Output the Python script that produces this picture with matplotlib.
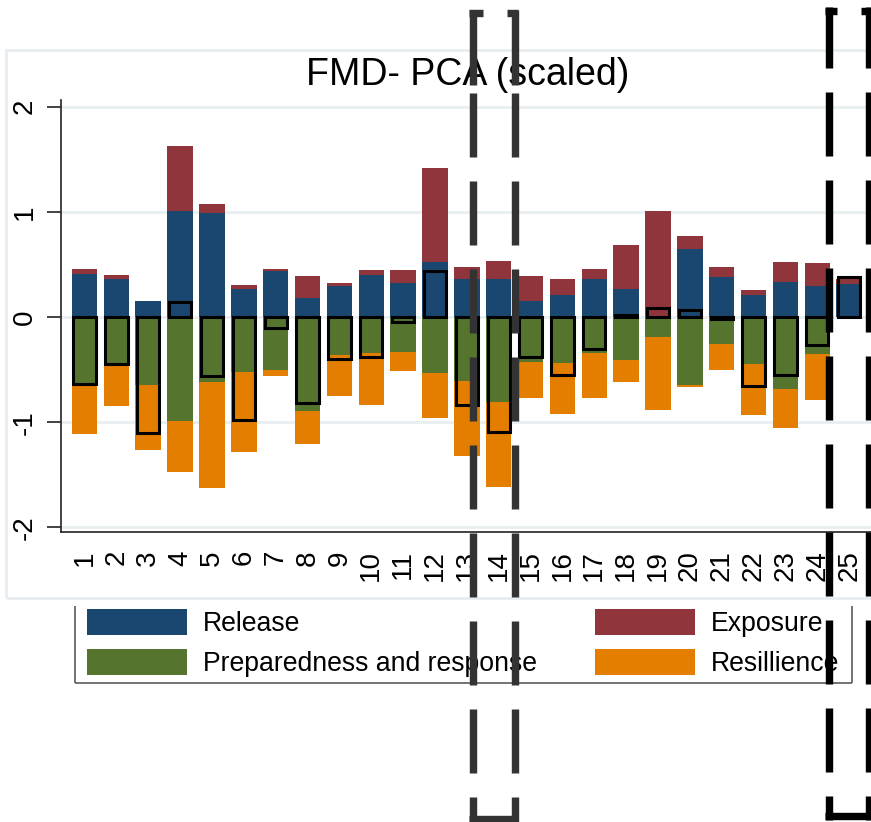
import numpy as np
import matplotlib
matplotlib.use('Agg')
import matplotlib.pyplot as plt
from matplotlib.patches import Patch, Rectangle
from matplotlib.lines import Line2D

plt.rcParams['font.family'] = ['Liberation Sans', 'DejaVu Sans']
plt.rcParams['axes.unicode_minus'] = False

# region numbers on the x axis
regions = [str(i) for i in range(1, 26)]

# stacked components (scaled PCA scores)
release = [0.41, 0.36, 0.15, 1.01, 0.99, 0.27, 0.44, 0.18, 0.29, 0.40, 0.32, 0.52, 0.36,
           0.36, 0.15, 0.21, 0.36, 0.27, 0.00, 0.65, 0.38, 0.21, 0.33, 0.29, 0.31]
exposure = [0.05, 0.04, 0.00, 0.62, 0.08, 0.03, 0.02, 0.21, 0.03, 0.05, 0.13, 0.90, 0.12,
            0.17, 0.24, 0.15, 0.10, 0.41, 1.01, 0.12, 0.10, 0.05, 0.19, 0.22, 0.05]
preparedness = [-0.65, -0.46, -0.65, -0.99, -0.62, -0.52, -0.50, -0.89, -0.36, -0.34, -0.33, -0.53, -0.61,
                -0.81, -0.43, -0.44, -0.34, -0.41, -0.19, -0.65, -0.26, -0.45, -0.68, -0.35, 0.00]
resilience = [-0.46, -0.39, -0.61, -0.48, -1.01, -0.76, -0.06, -0.32, -0.39, -0.50, -0.18, -0.43, -0.71,
              -0.81, -0.34, -0.48, -0.43, -0.21, -0.69, -0.02, -0.24, -0.48, -0.38, -0.44, 0.00]
# net score, drawn as hollow black boxes
net_score = [-0.64, -0.45, -1.10, 0.14, -0.56, -0.98, -0.10, -0.82, -0.40, -0.38, -0.05, 0.44, -0.84,
             -1.09, -0.38, -0.55, -0.30, 0.02, 0.09, 0.07, -0.02, -0.66, -0.55, -0.27, 0.38]

y_ticks = [-2, -1, 0, 1, 2]

NAVY = '#1a476f'
MAROON = '#90353b'
GREEN = '#55752f'
ORANGE = '#e37e00'

W, H = 871, 822


def fx(px):
	''' pixel column -> figure fraction '''
	return px / W


def fy(py):
	''' pixel row (from top) -> figure fraction '''
	return 1 - py / H


def seg(fig, p0, p1, color, lw_px=7.4):
	'''
		draw one straight segment given in pixel coords (from top-left).
	'''
	fig.add_artist(Line2D([fx(p0[0]), fx(p1[0])], [fy(p0[1]), fy(p1[1])],
	                      transform=fig.transFigure, color=color, lw=lw_px * 0.72,
	                      solid_capstyle='butt', zorder=20))


def dashed_box(fig, left, right, top, bottom, first, start, top_segs, color):
	'''
		hand-drawn looking dashed bracket box overlaid on the figure.
	'''
	for xc in (left, right):
		seg(fig, (xc, first[0]), (xc, first[1]), color)
		s = start
		while s < bottom + 3.7:
			seg(fig, (xc, s), (xc, min(s + 64, bottom + 3.7)), color)
			s += 88
	for a, b in top_segs:
		seg(fig, (a, top), (b, top), color)
	seg(fig, (left - 3.7, bottom), (right + 3.7, bottom), color)


fig = plt.figure(figsize=(W / 100, H / 100), dpi=100)
fig.patch.set_facecolor('white')

# light outer graph region frame
fig.add_artist(Rectangle((fx(6), fy(598)), fx(890) - fx(6), fy(50) - fy(598),
                         transform=fig.transFigure, fill=False, edgecolor='#e4ecef',
                         lw=1.8, zorder=1))

ax = fig.add_axes([fx(61), fy(532), fx(871) - fx(61), fy(100) - fy(532)])
x = np.arange(1, len(regions) + 1)

ax.bar(x, release, 0.8, color=NAVY, zorder=2)
ax.bar(x, exposure, 0.8, bottom=release, color=MAROON, zorder=2)
ax.bar(x, preparedness, 0.8, color=GREEN, zorder=2)
ax.bar(x, resilience, 0.8, bottom=preparedness, color=ORANGE, zorder=2)
ax.bar(x, net_score, 0.7, fill=False, edgecolor='black', linewidth=2.2, zorder=3)

ax.set_xlim(0.262, 25.686)
ax.set_ylim(-2.044, 2.063)
ax.spines['top'].set_visible(False)
ax.spines['right'].set_visible(False)
for s in ('left', 'bottom'):
	ax.spines[s].set_linewidth(1.2)
	ax.spines[s].set_color('#222222')

ax.set_yticks(y_ticks)
ax.set_yticklabels([str(v) for v in y_ticks], rotation=90, va='center', fontsize=20)
ax.tick_params(axis='y', length=10, width=1.2, pad=7, color='#222222')
ax.set_xticks(x)
ax.set_xticklabels(regions, rotation=90, va='top', ha='center', fontsize=20)
ax.tick_params(axis='x', length=0, pad=13)
ax.yaxis.grid(True, color='#e8eff1', lw=2)
ax.set_axisbelow(True)

fig.text(fx(467.5), fy(75), 'FMD- PCA (scaled)', ha='center', va='center', fontsize=27)

handles = [Patch(facecolor=NAVY, label='Release'),
           Patch(facecolor=GREEN, label='Preparedness and response'),
           Patch(facecolor=MAROON, label='Exposure'),
           Patch(facecolor=ORANGE, label='Resillience')]
fig.legend(handles=handles, ncol=2, loc='upper left', bbox_to_anchor=(fx(82), fy(604)),
           frameon=False, fontsize=19.2, handlelength=3.75, handleheight=1.1,
           handletextpad=0.6, columnspacing=2.15, labelspacing=0.45,
           borderpad=0.2, borderaxespad=0)
# legend box without its top edge
for p0, p1 in [((75, 606), (75, 683)), ((75, 683), (852, 683)), ((852, 606), (852, 683))]:
	seg(fig, p0, p1, '#555555', lw_px=1.6)

dashed_box(fig, 473, 514.5, 13.5, 818.5, (10, 85), 92.7,
           [(469.3, 483), (507, 518.2)], '#333333')
dashed_box(fig, 829, 868.5, 11, 816, (7.3, 68.3), 91.7,
           [(825.3, 836.7), (861, 875)], 'black')

fig.savefig('out.png', dpi=100)
